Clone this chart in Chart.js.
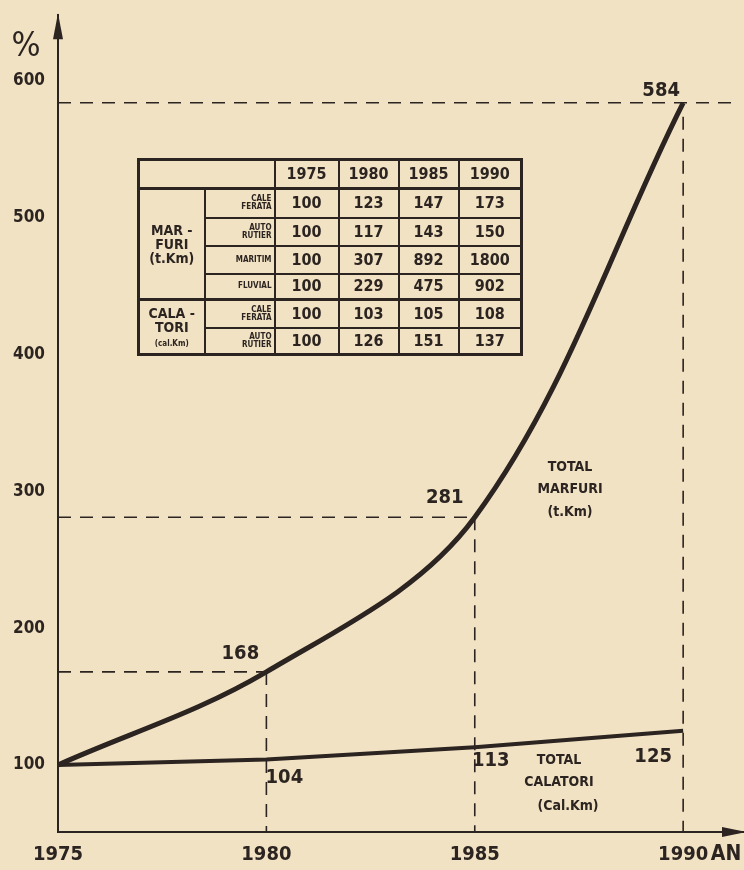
<!DOCTYPE html>
<html>
<head>
<meta charset="utf-8">
<script src="https://cdn.jsdelivr.net/npm/chart.js@4.4.1/dist/chart.umd.min.js"></script>
<style>
  body { margin: 0; background: #f2e2c4; }
  #cadru { position: relative; width: 744px; height: 870px; overflow: hidden; }
  #grafic { position: absolute; left: 0; top: 0; }
  #tabel {
    position: absolute; left: 137px; top: 158px;
    border-collapse: collapse; table-layout: fixed;
    border: 3px solid #2b2420;
    font-family: "DejaVu Sans Condensed", "Liberation Sans Narrow", sans-serif;
    font-weight: bold; color: #2b2420;
  }
  #tabel td { border: 2px solid #2b2420; text-align: center; padding: 0; line-height: 1; }
  #tabel td.nr { font-size: 16px; }
  #tabel td.mic { font-size: 8px; text-align: right; padding-right: 2px; }
  #tabel td.grup { font-size: 14px; border-right-width: 2px; }
  #tabel td.grup small { font-size: 8px; }
  #tabel tr.cap td { border-bottom-width: 3px; height: 26px; }
  #tabel tr.sep td { border-top-width: 3px; }
</style>
</head>
<body>
<div id="cadru">
  <canvas id="grafic" width="744" height="870"></canvas>
  <table id="tabel"></table>
</div>
<script>
// valorile din grafic
const ani = [1975, 1980, 1985, 1990];
const totalMarfuri = [100, 168, 281, 584];
const totalCalatori = [100, 104, 113, 125];
const ticksY = [100, 200, 300, 400, 500, 600];

// valorile din tabel
const marfuriCaleFerata = [100, 123, 147, 173];
const marfuriAutoRutier = [100, 117, 143, 150];
const marfuriMaritim = [100, 307, 892, 1800];
const marfuriFluvial = [100, 229, 475, 902];
const calatoriCaleFerata = [100, 103, 105, 108];
const calatoriAutoRutier = [100, 126, 151, 137];

const culoare = "#2b2420";
const font = '"DejaVu Sans Condensed", "Liberation Sans Narrow", sans-serif';

function puncte(valori) {
  return ani.map((a, i) => ({ x: a, y: valori[i] }));
}

// tabelul de sus
function llenarTabel() {
  var t = document.getElementById("tabel");
  var lat = [66, 70, 64, 60, 60, 63];
  var cg = "<colgroup>";
  for (let i = 0; i < lat.length; i++) cg += "<col style='width:" + lat[i] + "px'>";
  cg += "</colgroup>";
  var html = cg + "<tr class='cap'><td colspan='2'></td>";
  for (let i = 0; i < ani.length; i++) html += "<td class='nr'>" + ani[i] + "</td>";
  html += "</tr>";
  var randuri = [
    ["CALE<br>FERATA", marfuriCaleFerata, 29],
    ["AUTO<br>RUTIER", marfuriAutoRutier, 28],
    ["MARITIM", marfuriMaritim, 28],
    ["FLUVIAL", marfuriFluvial, 26],
    ["CALE<br>FERATA", calatoriCaleFerata, 28],
    ["AUTO<br>RUTIER", calatoriAutoRutier, 27]
  ];
  for (let r = 0; r < randuri.length; r++) {
    html += "<tr" + (r == 4 ? " class='sep'" : "") + " style='height:" + randuri[r][2] + "px'>";
    if (r == 0) html += "<td class='grup' rowspan='4'>MAR -<br>FURI<br>(t.Km)</td>";
    if (r == 4) html += "<td class='grup' rowspan='2'>CALA -<br>TORI<br><small>(cal.Km)</small></td>";
    html += "<td class='mic'>" + randuri[r][0] + "</td>";
    for (let i = 0; i < ani.length; i++) html += "<td class='nr'>" + randuri[r][1][i] + "</td>";
    html += "</tr>";
  }
  t.innerHTML = html;
}
llenarTabel();

function linieP(ctx, x1, y1, x2, y2) {
  ctx.beginPath();
  ctx.moveTo(x1, y1);
  ctx.lineTo(x2, y2);
  ctx.stroke();
}

const extras = {
  id: "extras",
  beforeDatasetsDraw(chart) {
    const ctx = chart.ctx;
    const sx = chart.scales.x, sy = chart.scales.y;
    const a = chart.chartArea;
    ctx.save();
    ctx.strokeStyle = culoare;
    ctx.lineWidth = 1.6;
    ctx.setLineDash([13, 9]);
    for (let i = 1; i < ani.length; i++) {
      const px = sx.getPixelForValue(ani[i]);
      const py = sy.getPixelForValue(totalMarfuri[i]);
      const capat = i == ani.length - 1 ? a.right - 4 : px;
      linieP(ctx, a.left, py, capat, py);
      linieP(ctx, px, py + (i == ani.length - 1 ? 14 : 0), px, a.bottom);
    }
    ctx.restore();
  },
  afterDatasetsDraw(chart) {
    const ctx = chart.ctx;
    const sx = chart.scales.x, sy = chart.scales.y;
    const a = chart.chartArea;
    ctx.save();
    ctx.fillStyle = culoare;
    // sageti pe axe
    ctx.beginPath();
    ctx.moveTo(a.left, a.top - 2);
    ctx.lineTo(a.left - 5, a.top + 24);
    ctx.lineTo(a.left + 5, a.top + 24);
    ctx.fill();
    ctx.beginPath();
    ctx.moveTo(a.right + 2, a.bottom);
    ctx.lineTo(a.right - 22, a.bottom - 5);
    ctx.lineTo(a.right - 22, a.bottom + 5);
    ctx.fill();
    // valori la puncte
    ctx.textAlign = "center";
    ctx.textBaseline = "middle";
    ctx.font = "bold 20px " + font;
    var dm = [[0, 0], [-26, -18], [-30, -20], [-22, -12]];
    for (let i = 1; i < ani.length; i++) {
      ctx.fillText(totalMarfuri[i], sx.getPixelForValue(ani[i]) + dm[i][0], sy.getPixelForValue(totalMarfuri[i]) + dm[i][1]);
    }
    var dc = [[0, 0], [18, 18], [16, 14], [-30, 26]];
    for (let i = 1; i < ani.length; i++) {
      ctx.fillText(totalCalatori[i], sx.getPixelForValue(ani[i]) + dc[i][0], sy.getPixelForValue(totalCalatori[i]) + dc[i][1]);
    }
    // denumiri curbe
    ctx.font = "bold 14px " + font;
    ctx.fillText("TOTAL", 570, 467);
    ctx.fillText("MARFURI", 570, 489);
    ctx.fillText("(t.Km)", 570, 512);
    ctx.fillText("TOTAL", 559, 760);
    ctx.fillText("CALATORI", 559, 782);
    ctx.fillText("(Cal.Km)", 568, 806);
    // eticheta axe
    ctx.font = "34px " + font;
    ctx.fillText("%", 26, 47);
    ctx.font = "bold 21px " + font;
    ctx.fillText("AN", 726, 855);
    ctx.restore();
  }
};

new Chart("grafic", {
  type: "line",
  data: {
    datasets: [{
      label: "Total marfuri",
      data: puncte(totalMarfuri),
      borderColor: culoare,
      borderWidth: 5,
      pointRadius: 0,
      tension: 0.35,
      fill: false
    }, {
      label: "Total calatori",
      data: puncte(totalCalatori),
      borderColor: culoare,
      borderWidth: 4,
      pointRadius: 0,
      tension: 0,
      fill: false
    }]
  },
  options: {
    responsive: false,
    animation: false,
    layout: { padding: { top: 8, right: 0, left: 0, bottom: 0 } },
    plugins: { legend: { display: false }, tooltip: { enabled: false } },
    scales: {
      x: {
        type: "linear",
        min: 1975,
        max: 1991.46,
        afterBuildTicks: (s) => { s.ticks = ani.map(v => ({ value: v })); },
        afterFit: (s) => { s.height = 38; },
        grid: { display: false },
        border: { display: true, color: culoare, width: 2 },
        ticks: { color: culoare, padding: 3, font: { family: font, size: 20, weight: "bold" }, maxRotation: 0, callback: (v) => v }
      },
      y: {
        min: 51,
        max: 648,
        afterBuildTicks: (s) => { s.ticks = ticksY.map(v => ({ value: v })); },
        afterFit: (s) => { s.width = 58; },
        grid: { display: false },
        border: { display: true, color: culoare, width: 2 },
        ticks: { color: culoare, padding: 5, font: { family: font, size: 17, weight: "bold" } }
      }
    }
  },
  plugins: [extras]
});
</script>
</body>
</html>
